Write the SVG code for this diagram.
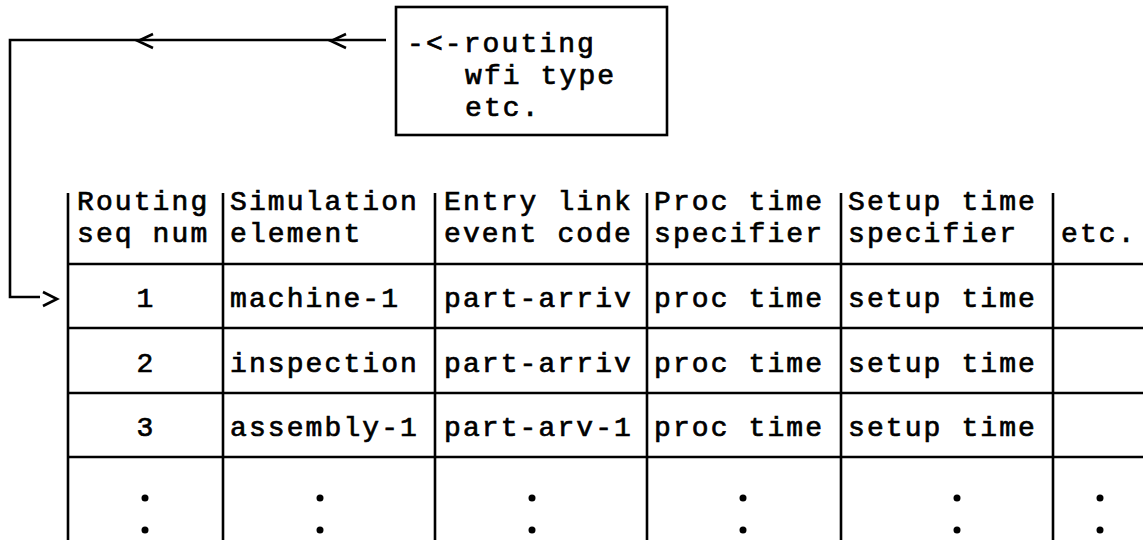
<svg xmlns="http://www.w3.org/2000/svg" width="1143" height="540" viewBox="0 0 1143 540">
<style>
.t{font-family:"Liberation Mono","Courier New",monospace;font-size:28px;letter-spacing:2.1px;fill:#000;stroke:#000;stroke-width:0.7}
.c{text-anchor:middle}
.ln{stroke:#000;stroke-width:2.6;fill:none}
.dot{fill:#000}
</style>
<rect width="1143" height="540" fill="#fff"/>
<g id="connectors">
<polyline class="ln" points="386,40 10,40 10,297 40,297"/>
<polyline class="ln" points="153,34 138,41 153,48"/>
<polyline class="ln" points="346,34 331,41 346,48"/>
<polyline class="ln" points="43,292 57,299 43,306"/>
</g>
<g id="info-box">
<rect class="ln" x="396" y="7" width="271" height="128"/>
<text class="t" x="407" y="52">-&lt;-routing</text>
<text class="t" x="465" y="84">wfi type</text>
<text class="t" x="465" y="116">etc.</text>
</g>
<g id="table">
<g id="grid">
<line class="ln" x1="68" y1="193" x2="68" y2="540"/>
<line class="ln" x1="223" y1="193" x2="223" y2="540"/>
<line class="ln" x1="435" y1="193" x2="435" y2="540"/>
<line class="ln" x1="647" y1="193" x2="647" y2="540"/>
<line class="ln" x1="841" y1="193" x2="841" y2="540"/>
<line class="ln" x1="1053" y1="193" x2="1053" y2="540"/>
<line class="ln" x1="68" y1="264" x2="1143" y2="264"/>
<line class="ln" x1="68" y1="328" x2="1143" y2="328"/>
<line class="ln" x1="68" y1="393" x2="1143" y2="393"/>
<line class="ln" x1="68" y1="457" x2="1143" y2="457"/>
</g>
<g id="header">
<text class="t" x="77" y="210">Routing</text>
<text class="t" x="77" y="242">seq num</text>
<text class="t" x="230" y="210">Simulation</text>
<text class="t" x="230" y="242">element</text>
<text class="t" x="444" y="210">Entry link</text>
<text class="t" x="444" y="242">event code</text>
<text class="t" x="654" y="210">Proc time</text>
<text class="t" x="654" y="242">specifier</text>
<text class="t" x="848" y="210">Setup time</text>
<text class="t" x="848" y="242">specifier</text>
<text class="t" x="1061" y="242">etc.</text>
</g>
<g id="row-1">
<text class="t c" x="146" y="307">1</text>
<text class="t" x="230" y="307">machine-1</text>
<text class="t" x="444" y="307">part-arriv</text>
<text class="t" x="654" y="307">proc time</text>
<text class="t" x="848" y="307">setup time</text>
</g>
<g id="row-2">
<text class="t c" x="146" y="372">2</text>
<text class="t" x="230" y="372">inspection</text>
<text class="t" x="444" y="372">part-arriv</text>
<text class="t" x="654" y="372">proc time</text>
<text class="t" x="848" y="372">setup time</text>
</g>
<g id="row-3">
<text class="t c" x="146" y="436">3</text>
<text class="t" x="230" y="436">assembly-1</text>
<text class="t" x="444" y="436">part-arv-1</text>
<text class="t" x="654" y="436">proc time</text>
<text class="t" x="848" y="436">setup time</text>
</g>
<g id="row-more">
<circle class="dot" cx="145" cy="498" r="3.5"/><circle class="dot" cx="145" cy="530" r="3.5"/>
<circle class="dot" cx="320" cy="498" r="3.5"/><circle class="dot" cx="320" cy="530" r="3.5"/>
<circle class="dot" cx="532" cy="498" r="3.5"/><circle class="dot" cx="532" cy="530" r="3.5"/>
<circle class="dot" cx="743" cy="498" r="3.5"/><circle class="dot" cx="743" cy="530" r="3.5"/>
<circle class="dot" cx="957" cy="498" r="3.5"/><circle class="dot" cx="957" cy="530" r="3.5"/>
<circle class="dot" cx="1100" cy="498" r="3.5"/><circle class="dot" cx="1100" cy="530" r="3.5"/>
</g>
</g>
</svg>
